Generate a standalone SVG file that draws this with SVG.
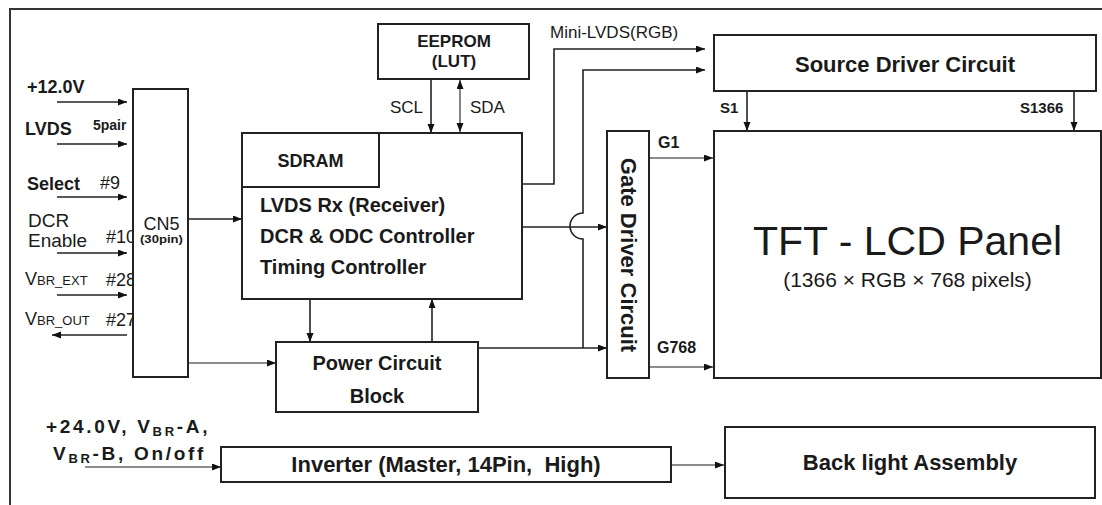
<svg xmlns="http://www.w3.org/2000/svg" width="1102" height="505" viewBox="0 0 1102 505">
<defs>
<marker id="ah" markerUnits="userSpaceOnUse" markerWidth="10" markerHeight="8" refX="9" refY="3.5" orient="auto-start-reverse"><path d="M0,0 L9,3.5 L0,7 z" fill="#111"/></marker>
<style>
.box{fill:#fff;stroke:#222;stroke-width:2}
.ln{fill:none;stroke:#222;stroke-width:1.6}
.lg{fill:none;stroke:#666;stroke-width:1.6}
.a{marker-end:url(#ah)}
.t{font-family:"Liberation Sans",Arial,sans-serif;fill:#1a1a1a}
.b{font-weight:bold}
.c{text-anchor:middle}
</style>
</defs>
<rect width="1102" height="505" fill="#fff"/>
<g id="frame"><path d="M10,505 V9 H1102" fill="none" stroke="#333" stroke-width="2"/></g>

<g id="connectors">
<line class="ln a" x1="57" y1="102" x2="127" y2="102"/>
<line class="ln a" x1="57" y1="144" x2="127" y2="144"/>
<line class="ln a" x1="57" y1="197" x2="127" y2="197"/>
<line class="ln a" x1="57" y1="253" x2="127" y2="253"/>
<line class="ln a" x1="57" y1="295" x2="127" y2="295"/>
<line class="ln a" x1="127" y1="335" x2="52" y2="335"/>
<line class="ln a" x1="188" y1="219" x2="242" y2="219"/>
<line class="lg a" x1="188" y1="363" x2="276" y2="363"/>
<line class="ln a" x1="431" y1="79" x2="431" y2="133"/>
<line class="lg" x1="460" y1="80" x2="460" y2="132" style="marker-start:url(#ah);marker-end:url(#ah)"/>
<line class="ln a" x1="310" y1="299" x2="310" y2="342"/>
<line class="ln a" x1="432" y1="342" x2="432" y2="299"/>
<path class="ln a" d="M522,184 H554 V49 H705"/>
<path class="ln a" d="M583,348 V239 A13,13 0 0 1 583,213 V70 H705"/>
<line class="ln a" x1="478" y1="348" x2="607" y2="348"/>
<line class="ln a" x1="522" y1="227" x2="607" y2="227"/>
<line class="ln a" x1="747" y1="91" x2="747" y2="131"/>
<line class="ln a" x1="1074" y1="91" x2="1074" y2="131"/>
<line class="lg a" x1="649" y1="158" x2="713" y2="158"/>
<line class="lg a" x1="649" y1="367" x2="713" y2="367"/>
<line class="lg a" x1="85" y1="467" x2="221" y2="467"/>
<line class="lg a" x1="671" y1="465" x2="724" y2="465"/>
</g>

<g id="inputs-labels">
<text class="t b" x="27" y="93" font-size="18">+12.0V</text>
<text class="t b" x="25" y="135" font-size="18">LVDS</text>
<text class="t b" x="93" y="130" font-size="14">5pair</text>
<text class="t b" x="27" y="190" font-size="18">Select</text>
<text class="t" x="100" y="189" font-size="18">#9</text>
<text class="t" x="28" y="227" font-size="19">DCR</text>
<text class="t" x="28" y="247" font-size="19">Enable</text>
<text class="t" x="106" y="243" font-size="18">#10</text>
<text class="t" x="25" y="285" font-size="18">V<tspan font-size="13">BR_EXT</tspan></text>
<text class="t" x="106" y="286" font-size="18">#28</text>
<text class="t" x="25" y="325" font-size="18">V<tspan font-size="13">BR_OUT</tspan></text>
<text class="t" x="106" y="326" font-size="18">#27</text>
</g>

<g id="cn5">
<rect class="box" x="133" y="89" width="55" height="288"/>
<text class="t c" x="161.5" y="230" font-size="18">CN5</text>
<text class="t b c" x="161.5" y="243" font-size="11" textLength="43" lengthAdjust="spacingAndGlyphs">(30pin)</text>
</g>

<g id="eeprom">
<rect class="box" x="378" y="24" width="151" height="55"/>
<text class="t b c" x="454" y="47" font-size="17">EEPROM</text>
<text class="t b c" x="454" y="67" font-size="17">(LUT)</text>
<text class="t" x="423" y="113" font-size="17" text-anchor="end">SCL</text>
<text class="t" x="470" y="113" font-size="17">SDA</text>
</g>

<g id="controller">
<rect class="box" x="242" y="133" width="280" height="166"/>
<text class="t b" x="260" y="212" font-size="20">LVDS Rx (Receiver)</text>
<text class="t b" x="260" y="243" font-size="20">DCR &amp; ODC Controller</text>
<text class="t b" x="260" y="274" font-size="20">Timing Controller</text>
</g>

<g id="sdram">
<rect class="box" x="242" y="133" width="137" height="54"/>
<text class="t b c" x="310.5" y="167" font-size="18">SDRAM</text>
</g>

<g id="power">
<rect class="box" x="276" y="342" width="202" height="70"/>
<text class="t b c" x="377" y="370" font-size="20">Power Circuit</text>
<text class="t b c" x="377" y="403" font-size="20">Block</text>
</g>

<g id="minilvds-label">
<text class="t" x="550" y="38" font-size="17">Mini-LVDS(RGB)</text>
</g>

<g id="source-driver">
<rect class="box" x="714" y="35" width="382" height="56"/>
<text class="t b c" x="905" y="72" font-size="22">Source Driver Circuit</text>
<text class="t b" x="720" y="113" font-size="15">S1</text>
<text class="t b" x="1020" y="113" font-size="15">S1366</text>
</g>

<g id="gate-driver">
<rect class="box" x="607" y="131" width="42" height="247"/>
<text class="t b c" x="0" y="0" font-size="22" dominant-baseline="central" transform="translate(628,255) rotate(90)">Gate Driver Circuit</text>
<text class="t b" x="658" y="148" font-size="16">G1</text>
<text class="t b" x="657" y="353" font-size="16">G768</text>
</g>

<g id="panel">
<rect class="box" x="714" y="131" width="387" height="247"/>
<text class="t c" x="907.5" y="255" font-size="41">TFT - LCD Panel</text>
<text class="t c" x="907.5" y="287" font-size="21" fill="#333">(1366 × RGB × 768 pixels)</text>
</g>

<g id="inverter">
<text class="t b" x="46" y="433" font-size="19" letter-spacing="2.7">+24.0V, V<tspan font-size="13" dy="3">BR</tspan><tspan dy="-3">-A,</tspan></text>
<text class="t b" x="53" y="460" font-size="19" letter-spacing="2.7">V<tspan font-size="13" dy="3">BR</tspan><tspan dy="-3">-B, On/off</tspan></text>
<rect class="box" x="221" y="447" width="450" height="35"/>
<text class="t b c" x="446" y="472" font-size="22">Inverter (Master, 14Pin,&#160; High)</text>
</g>

<g id="backlight">
<rect class="box" x="725" y="427" width="370" height="71"/>
<text class="t b c" x="910" y="470" font-size="22">Back light Assembly</text>
</g>
</svg>
